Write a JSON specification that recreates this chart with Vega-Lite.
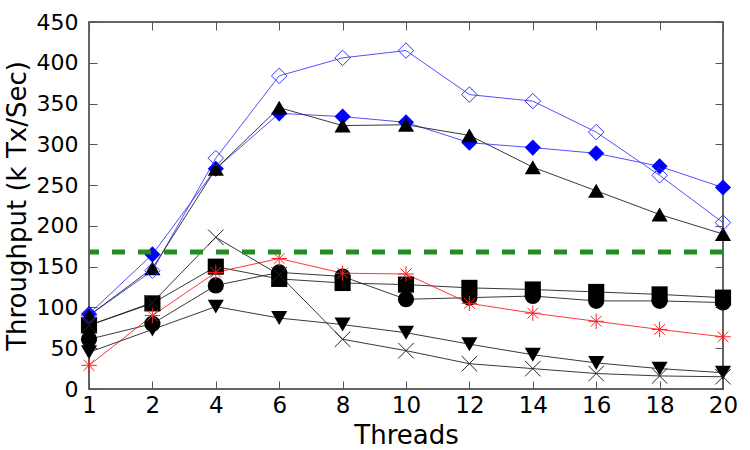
{
  "$schema": "https://vega.github.io/schema/vega-lite/v6.json",
  "width": 634,
  "height": 367,
  "autosize": {"type": "none"},
  "padding": {"left": 89, "top": 22, "right": 27, "bottom": 61},
  "background": "white",
  "config": {
    "view": {"stroke": "#333", "strokeWidth": 1.5},
    "axis": {"grid": false, "domain": false, "tickColor": "#555", "tickWidth": 1, "labelColor": "black", "titleColor": "black", "titleFontWeight": "normal", "labelFont": "DejaVu Sans", "titleFont": "DejaVu Sans"}
  },
  "datasets": {
    "series": [
      {"threads": 1, "series": "A", "value": 90},
      {"threads": 2, "series": "A", "value": 145},
      {"threads": 4, "series": "A", "value": 283},
      {"threads": 6, "series": "A", "value": 384},
      {"threads": 8, "series": "A", "value": 406},
      {"threads": 10, "series": "A", "value": 415},
      {"threads": 12, "series": "A", "value": 361},
      {"threads": 14, "series": "A", "value": 353},
      {"threads": 16, "series": "A", "value": 315},
      {"threads": 18, "series": "A", "value": 262},
      {"threads": 20, "series": "A", "value": 204},
      {"threads": 1, "series": "B", "value": 92},
      {"threads": 2, "series": "B", "value": 165},
      {"threads": 4, "series": "B", "value": 270},
      {"threads": 6, "series": "B", "value": 338},
      {"threads": 8, "series": "B", "value": 334},
      {"threads": 10, "series": "B", "value": 327},
      {"threads": 12, "series": "B", "value": 302},
      {"threads": 14, "series": "B", "value": 296},
      {"threads": 16, "series": "B", "value": 289},
      {"threads": 18, "series": "B", "value": 273},
      {"threads": 20, "series": "B", "value": 247},
      {"threads": 1, "series": "C", "value": 90},
      {"threads": 2, "series": "C", "value": 148},
      {"threads": 4, "series": "C", "value": 270},
      {"threads": 6, "series": "C", "value": 345},
      {"threads": 8, "series": "C", "value": 323},
      {"threads": 10, "series": "C", "value": 324},
      {"threads": 12, "series": "C", "value": 311},
      {"threads": 14, "series": "C", "value": 272},
      {"threads": 16, "series": "C", "value": 243},
      {"threads": 18, "series": "C", "value": 214},
      {"threads": 20, "series": "C", "value": 190},
      {"threads": 1, "series": "D", "value": 78},
      {"threads": 2, "series": "D", "value": 105},
      {"threads": 4, "series": "D", "value": 150},
      {"threads": 6, "series": "D", "value": 135},
      {"threads": 8, "series": "D", "value": 130},
      {"threads": 10, "series": "D", "value": 128},
      {"threads": 12, "series": "D", "value": 124},
      {"threads": 14, "series": "D", "value": 122},
      {"threads": 16, "series": "D", "value": 119},
      {"threads": 18, "series": "D", "value": 116},
      {"threads": 20, "series": "D", "value": 112},
      {"threads": 1, "series": "E", "value": 61},
      {"threads": 2, "series": "E", "value": 80},
      {"threads": 4, "series": "E", "value": 127},
      {"threads": 6, "series": "E", "value": 143},
      {"threads": 8, "series": "E", "value": 138},
      {"threads": 10, "series": "E", "value": 110},
      {"threads": 12, "series": "E", "value": 112},
      {"threads": 14, "series": "E", "value": 114},
      {"threads": 16, "series": "E", "value": 108},
      {"threads": 18, "series": "E", "value": 108},
      {"threads": 20, "series": "E", "value": 106},
      {"threads": 1, "series": "F", "value": 29},
      {"threads": 2, "series": "F", "value": 90},
      {"threads": 4, "series": "F", "value": 143},
      {"threads": 6, "series": "F", "value": 160},
      {"threads": 8, "series": "F", "value": 142},
      {"threads": 10, "series": "F", "value": 141},
      {"threads": 12, "series": "F", "value": 105},
      {"threads": 14, "series": "F", "value": 93},
      {"threads": 16, "series": "F", "value": 83},
      {"threads": 18, "series": "F", "value": 73},
      {"threads": 20, "series": "F", "value": 64},
      {"threads": 1, "series": "G", "value": 45},
      {"threads": 2, "series": "G", "value": 73},
      {"threads": 4, "series": "G", "value": 101},
      {"threads": 6, "series": "G", "value": 87},
      {"threads": 8, "series": "G", "value": 79},
      {"threads": 10, "series": "G", "value": 69},
      {"threads": 12, "series": "G", "value": 55},
      {"threads": 14, "series": "G", "value": 42},
      {"threads": 16, "series": "G", "value": 32},
      {"threads": 18, "series": "G", "value": 25},
      {"threads": 20, "series": "G", "value": 20},
      {"threads": 1, "series": "H", "value": 78},
      {"threads": 2, "series": "H", "value": 106},
      {"threads": 4, "series": "H", "value": 186},
      {"threads": 6, "series": "H", "value": 140},
      {"threads": 8, "series": "H", "value": 61},
      {"threads": 10, "series": "H", "value": 47},
      {"threads": 12, "series": "H", "value": 31},
      {"threads": 14, "series": "H", "value": 25},
      {"threads": 16, "series": "H", "value": 19},
      {"threads": 18, "series": "H", "value": 16},
      {"threads": 20, "series": "H", "value": 15}
    ],
    "baseline": [{"level": 168}]
  },
  "layer": [
    {
      "data": {"name": "series"},
      "mark": {"type": "line", "strokeWidth": 0.9},
      "encoding": {
        "x": {"field": "threads", "type": "ordinal", "sort": [1,2,4,6,8,10,12,14,16,18,20],
              "scale": {"type": "point", "padding": 0, "domain": [1,2,4,6,8,10,12,14,16,18,20]},
              "axis": {"orient": "bottom", "title": "Threads", "labelAngle": 0, "labelFontSize": 23, "titleFontSize": 26, "tickSize": -8, "labelPadding": 13, "titlePadding": 5}},
        "y": {"field": "value", "type": "quantitative",
              "scale": {"domain": [0, 450], "nice": false, "zero": true},
              "axis": {"orient": "left", "title": "Throughput (k Tx/Sec)", "values": [0,50,100,150,200,250,300,350,400,450], "labelFontSize": 22, "titleFontSize": 26, "tickSize": -8, "labelPadding": 19, "titlePadding": 6}},
        "color": {"field": "series", "type": "nominal", "legend": null,
                  "scale": {"domain": ["A","B","C","D","E","F","G","H"], "range": ["#3b3bff","#3b3bff","#222222","#222222","#222222","#ff2020","#222222","#222222"]}},
        "detail": {"field": "series"}
      }
    },
    {
      "data": {"name": "series"},
      "transform": [{"filter": {"field": "series", "oneOf": ["B","C","D","E","G"]}}],
      "mark": {"type": "point", "filled": true, "opacity": 1},
      "encoding": {
        "x": {"field": "threads", "type": "ordinal", "sort": [1,2,4,6,8,10,12,14,16,18,20],
              "axis": {"orient": "top", "title": null, "labels": false, "tickSize": -8}},
        "y": {"field": "value", "type": "quantitative",
              "axis": {"orient": "right", "title": null, "labels": false, "tickSize": -8, "values": [0,50,100,150,200,250,300,350,400,450]}},
        "shape": {"field": "series", "type": "nominal", "legend": null,
                  "scale": {"domain": ["A","B","C","D","E","F","G","H"], "range": ["diamond","diamond","triangle-up","square","circle","M-1,0L1,0M0,-1L0,1M-0.7,-0.7L0.7,0.7M-0.7,0.7L0.7,-0.7","triangle-down","M-1,-1L1,1M-1,1L1,-1"]}},
        "color": {"field": "series", "type": "nominal", "legend": null,
                  "scale": {"domain": ["B","C","D","E","G"], "range": ["#0000ff","#000000","#000000","#000000","#000000"]}},
        "size": {"value": 260}
      }
    },
    {
      "data": {"name": "series"},
      "transform": [{"filter": {"field": "series", "oneOf": ["A","F","H"]}}],
      "mark": {"type": "point", "filled": false, "strokeWidth": 1, "opacity": 1},
      "encoding": {
        "x": {"field": "threads", "type": "ordinal", "axis": null},
        "y": {"field": "value", "type": "quantitative", "axis": null},
        "shape": {"field": "series", "type": "nominal", "legend": null},
        "color": {"field": "series", "type": "nominal", "legend": null,
                  "scale": {"domain": ["A","F","H"], "range": ["#3333ff","#ff2020","#222222"]}},
        "size": {"value": 240}
      }
    },
    {
      "data": {"name": "baseline"},
      "mark": {"type": "rule", "color": "#228B22", "strokeWidth": 5, "strokeDash": [13, 13]},
      "encoding": {
        "y": {"field": "level", "type": "quantitative", "axis": null}
      }
    }
  ],
  "resolve": {"axis": {"x": "independent", "y": "independent"}, "scale": {"color": "independent"}}
}
